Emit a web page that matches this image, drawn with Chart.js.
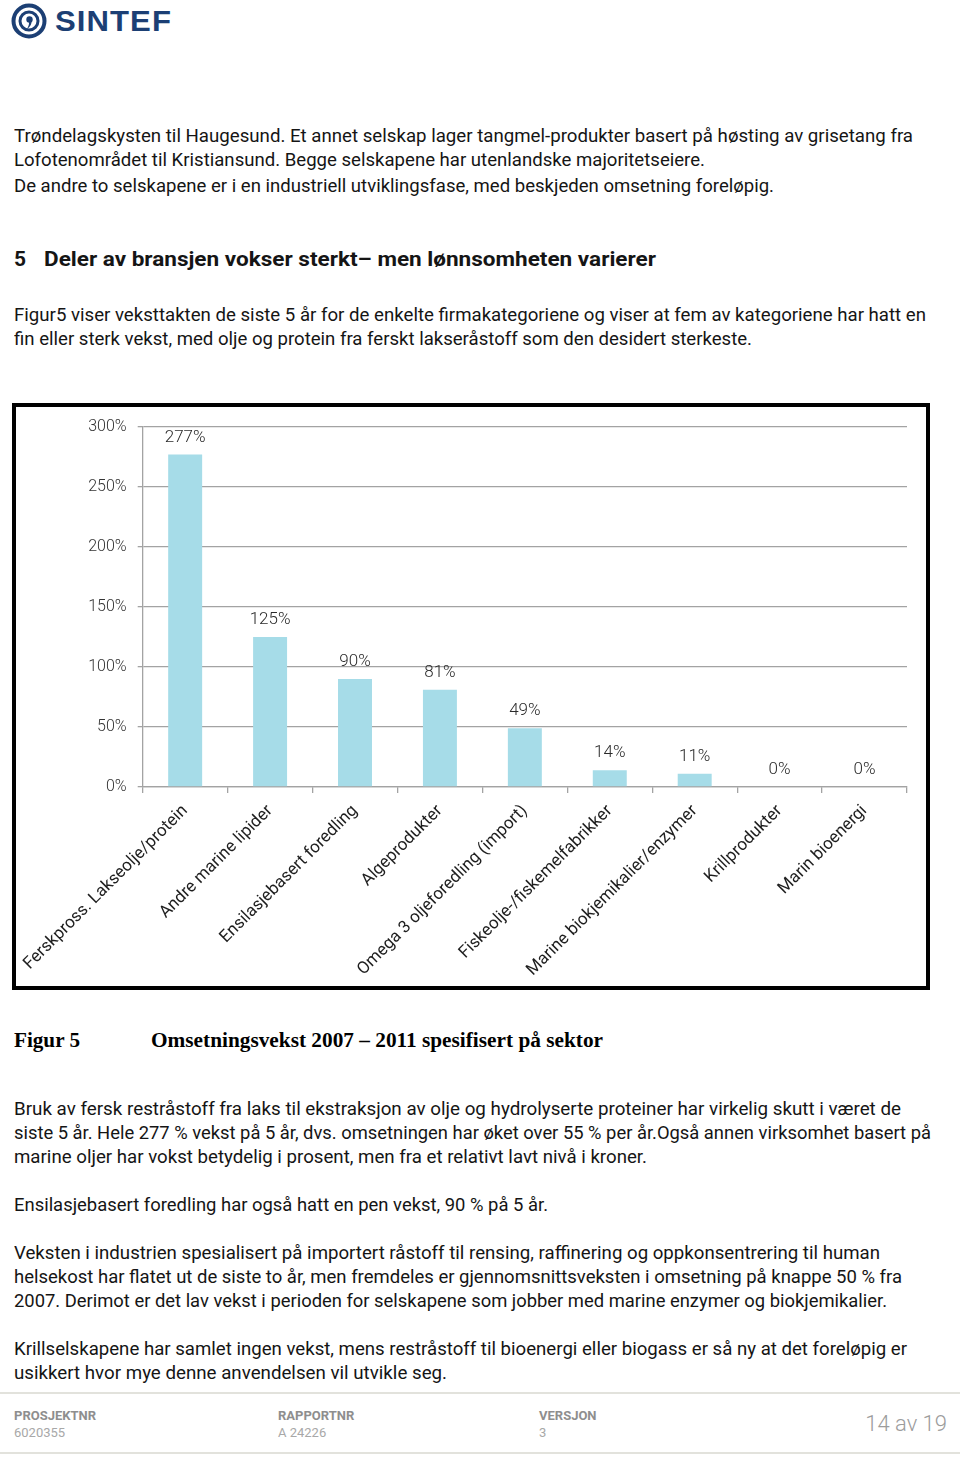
<!DOCTYPE html>
<html>
<head>
<meta charset="utf-8">
<script src="https://cdn.jsdelivr.net/npm/chart.js@4.4.1/dist/chart.umd.min.js"></script>
<style>
  html, body { margin:0; padding:0; background:#fff; }
  body { width:960px; height:1458px; position:relative; overflow:hidden; font-family:Roboto, "Noto Sans", sans-serif; color:#151515; }
  .t { position:absolute; white-space:nowrap; font-size:18px; line-height:24px; transform-origin:0 50%; }
  .h { font-weight:700; font-size:21px; }
  .cap { font-family:"Liberation Serif", serif; font-weight:700; font-size:20px; color:#000; }
  .fl { position:absolute; font-size:13px; font-weight:700; color:#8e8e8e; line-height:16px; }
  .fv { position:absolute; font-size:13px; color:#a8a8a8; line-height:16px; }
  #box { position:absolute; left:12px; top:403px; width:910px; height:579px; border:4px solid #000; }
  #chart { position:absolute; left:0; top:0; }
  .rule { position:absolute; left:0; width:960px; height:2px; background:#e2e2dc; }
</style>
</head>
<body>

<svg style="position:absolute;left:10px;top:2px" width="40" height="38" viewBox="0 0 40 38">
  <circle cx="19" cy="19" r="15.5" fill="none" stroke="#1c3f74" stroke-width="4"/>
  <circle cx="19" cy="19" r="9" fill="none" stroke="#1c3f74" stroke-width="3"/>
  <circle cx="19.5" cy="17.5" r="3.2" fill="#1c3f74"/>
  <path d="M21.5 18.5 Q22 24 17 27 Q19.5 22.5 19 19.5 Z" fill="#1c3f74"/>
</svg>
<div class="t" style="left:55px;top:4px;font-family:'Liberation Sans',sans-serif;font-weight:700;font-size:29px;line-height:34px;color:#1c3f74;letter-spacing:1px" data-w="117">SINTEF</div>

<div class="t" style="left:14px;top:124px" data-w="899">Trøndelagskysten til Haugesund. Et annet selskap lager tangmel-produkter basert på høsting av grisetang fra</div>
<div class="t" style="left:14px;top:148px" data-w="691">Lofotenområdet til Kristiansund. Begge selskapene har utenlandske majoritetseiere.</div>
<div class="t" style="left:14px;top:174px" data-w="760">De andre to selskapene er i en industriell utviklingsfase, med beskjeden omsetning foreløpig.</div>

<div class="t h" style="left:14px;top:247px">5</div>
<div class="t h" style="left:44px;top:247px" data-w="612">Deler av bransjen vokser sterkt– men lønnsomheten varierer</div>

<div class="t" style="left:14px;top:303px" data-w="912">Figur5 viser veksttakten de siste 5 år for de enkelte firmakategoriene og viser at fem av kategoriene har hatt en</div>
<div class="t" style="left:14px;top:327px" data-w="738">fin eller sterk vekst, med olje og protein fra ferskt lakseråstoff som den desidert sterkeste.</div>

<div id="box"><canvas id="chart" width="910" height="579"></canvas></div>

<div class="t cap" style="left:14px;top:1028px" data-w="66">Figur 5</div>
<div class="t cap" style="left:151px;top:1028px" data-w="452">Omsetningsvekst 2007 – 2011 spesifisert på sektor</div>

<div class="t" style="left:14px;top:1097px" data-w="887">Bruk av fersk restråstoff fra laks til ekstraksjon av olje og hydrolyserte proteiner har virkelig skutt i været de</div>
<div class="t" style="left:14px;top:1121px" data-w="917">siste 5 år. Hele 277 % vekst på 5 år, dvs. omsetningen har øket over 55 % per år.Også annen virksomhet basert på</div>
<div class="t" style="left:14px;top:1145px" data-w="633">marine oljer har vokst betydelig i prosent, men fra et relativt lavt nivå i kroner.</div>

<div class="t" style="left:14px;top:1193px" data-w="534">Ensilasjebasert foredling har også hatt en pen vekst, 90 % på 5 år.</div>

<div class="t" style="left:14px;top:1241px" data-w="866">Veksten i industrien spesialisert på importert råstoff til rensing, raffinering og oppkonsentrering til human</div>
<div class="t" style="left:14px;top:1265px" data-w="888">helsekost har flatet ut de siste to år, men fremdeles er gjennomsnittsveksten i omsetning på knappe 50 % fra</div>
<div class="t" style="left:14px;top:1289px" data-w="873">2007. Derimot er det lav vekst i perioden for selskapene som jobber med marine enzymer og biokjemikalier.</div>

<div class="t" style="left:14px;top:1337px" data-w="893">Krillselskapene har samlet ingen vekst, mens restråstoff til bioenergi eller biogass er så ny at det foreløpig er</div>
<div class="t" style="left:14px;top:1361px" data-w="433">usikkert hvor mye denne anvendelsen vil utvikle seg.</div>

<div class="rule" style="top:1392px"></div>
<div class="fl" style="left:14px;top:1408px">PROSJEKTNR</div>
<div class="fv" style="left:14px;top:1425px">6020355</div>
<div class="fl" style="left:278px;top:1408px">RAPPORTNR</div>
<div class="fv" style="left:278px;top:1425px">A 24226</div>
<div class="fl" style="left:539px;top:1408px">VERSJON</div>
<div class="fv" style="left:539px;top:1425px">3</div>
<div style="position:absolute;right:13px;top:1411px;font-size:22px;font-weight:300;color:#9c9c9c;line-height:26px">14 av 19</div>
<div class="rule" style="top:1452px"></div>

<script>
// fit each text line to the width it has in the page
document.querySelectorAll('[data-w]').forEach(el => {
  const w = el.getBoundingClientRect().width;
  el.style.transform = 'scaleX(' + (el.dataset.w / w) + ')';
});

const categories = [
  "Ferskpross. Lakseolje/protein",
  "Andre marine lipider",
  "Ensilasjebasert foredling",
  "Algeprodukter",
  "Omega 3 oljeforedling (import)",
  "Fiskeolje-/fiskemelfabrikker",
  "Marine biokjemikalier/enzymer",
  "Krillprodukter",
  "Marin bioenergi"
];
const growth = [277, 125, 90, 81, 49, 14, 11, 0, 0];
const yTicks = [0, 50, 100, 150, 200, 250, 300];

const gridGrey = '#a3a3a3';
const fontFam = 'Roboto, "Noto Sans", sans-serif';

// value on top of each bar
const valueLabels = {
  id: 'valueLabels',
  afterDatasetsDraw(chart) {
    const ctx = chart.ctx;
    const meta = chart.getDatasetMeta(0);
    ctx.save();
    ctx.font = '300 17px ' + fontFam;
    ctx.fillStyle = '#2a2a2a';
    ctx.textAlign = 'center';
    ctx.textBaseline = 'alphabetic';
    meta.data.forEach((bar, i) => {
      ctx.fillText(growth[i] + '%', bar.x, bar.y - 13);
    });
    ctx.restore();
  }
};

new Chart(document.getElementById('chart'), {
  type: 'bar',
  data: {
    labels: categories,
    datasets: [{
      data: growth,
      backgroundColor: '#a6dce8',
      barPercentage: 0.4,
      categoryPercentage: 1
    }]
  },
  options: {
    responsive: false,
    animation: false,
    layout: { padding: { left: 0, top: 20, right: 19, bottom: 0 } },
    plugins: { legend: { display: false }, tooltip: { enabled: false } },
    scales: {
      x: {
        offset: true,
        grid: { drawOnChartArea: false, offset: true, tickLength: 6, color: gridGrey, lineWidth: 1.3 },
        border: { color: gridGrey, width: 1.3 },
        ticks: {
          autoSkip: false, minRotation: 45, maxRotation: 45, padding: 8,
          color: '#1e1e1e', font: { family: fontFam, size: 17 }
        },
        afterFit(s) { s.height = 199; s.paddingLeft = 0; s.paddingRight = 0; }
      },
      y: {
        min: 0, max: 300,
        afterBuildTicks(s) { s.ticks = yTicks.map(v => ({ value: v })); },
        grid: { color: gridGrey, lineWidth: 1.3, tickLength: 5 },
        border: { color: gridGrey, width: 1.3 },
        ticks: {
          padding: 11, color: '#333',
          font: { family: fontFam, size: 16, weight: 300 },
          callback: v => v + '%'
        },
        afterFit(s) { s.width = 126.7; s.paddingTop = 0; s.paddingBottom = 0; }
      }
    }
  },
  plugins: [valueLabels]
});
</script>
</body>
</html>
